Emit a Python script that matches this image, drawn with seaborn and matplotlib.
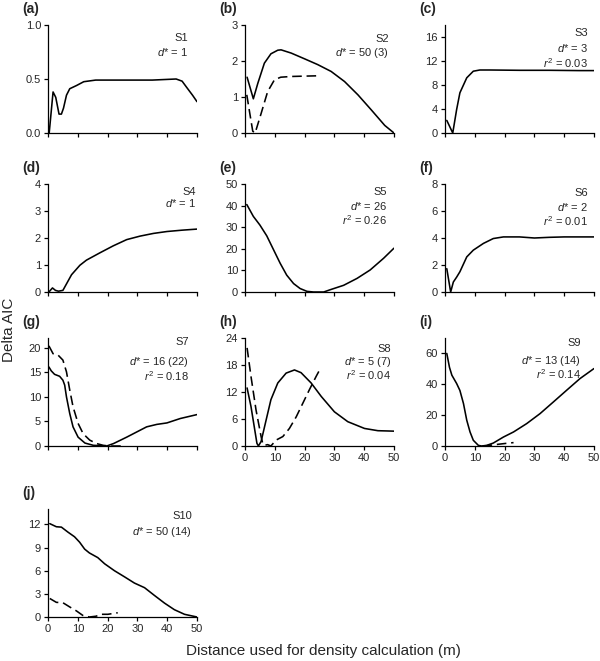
import matplotlib
matplotlib.use("Agg")
import matplotlib.pyplot as plt
import seaborn as sns

# Delta AIC vs distance used for density calculation
# solid = main curve, dashed = second curve (where present)
s1_x = [0.4, 1.7, 2.6, 3.7, 4.5, 5.2, 6.2, 7.3, 9.6, 12, 16, 25, 35, 43, 45, 46.6, 48.5, 50]
s1_y = [0.0, 0.38, 0.33, 0.175, 0.175, 0.23, 0.35, 0.41, 0.44, 0.475, 0.49, 0.49, 0.49, 0.50, 0.48, 0.42, 0.35, 0.29]

s2_x = [0.7, 2.8, 4.3, 6.5, 8.7, 11, 12.1, 15.5, 20, 24.4, 28.9, 33.4, 37.9, 42.4, 46.9, 50]
s2_y = [1.55, 0.95, 1.38, 1.94, 2.20, 2.30, 2.31, 2.22, 2.06, 1.90, 1.71, 1.43, 1.06, 0.64, 0.21, 0.0]
s2_dx = [0.6, 1.6, 2.6, 3.4, 5.4, 7.6, 9.9, 12, 15.5, 20, 25]
s2_dy = [1.06, 0.55, 0.05, 0.0, 0.54, 1.15, 1.48, 1.55, 1.57, 1.58, 1.59]

s3_x = [0.6, 2.6, 3.9, 5.0, 7.3, 9.5, 11.7, 15, 25, 35, 45, 50]
s3_y = [2.1, 0.0, 3.9, 6.7, 9.2, 10.3, 10.5, 10.5, 10.45, 10.45, 10.4, 10.4]

s4_x = [0.3, 1.5, 2.5, 3.5, 5, 6.2, 7.9, 10.7, 12.9, 17.4, 21.9, 26.4, 30.9, 35.4, 39.9, 45, 50]
s4_y = [0.0, 0.15, 0.06, 0.03, 0.06, 0.30, 0.64, 0.99, 1.18, 1.45, 1.71, 1.94, 2.07, 2.17, 2.24, 2.29, 2.33]

s5_x = [0.6, 2.8, 5, 7.3, 9.6, 11.8, 14, 16.3, 18.5, 20.8, 23, 26.4, 28.7, 33.1, 37.6, 42, 46.5, 50]
s5_y = [40.5, 35, 31, 26, 19.5, 13.3, 7.8, 3.9, 1.6, 0.3, 0.0, 0.0, 1.1, 3.1, 6.3, 10.2, 15.6, 20.3]

s6_x = [0.6, 1.9, 2.8, 3.9, 5, 7.3, 9.5, 12.9, 16.2, 19.6, 25, 30, 35, 40, 50]
s6_y = [1.73, 0.0, 0.74, 1.1, 1.5, 2.6, 3.1, 3.6, 3.96, 4.08, 4.08, 4.0, 4.05, 4.08, 4.08]

s7_x = [0.3, 1.1, 2.2, 3.9, 5.0, 5.6, 6.2, 7.3, 8.4, 10.1, 12.4, 15.2, 19.7, 22, 26.4, 33.1, 36.5, 39.9, 44.4, 50]
s7_y = [16.1, 15.3, 14.6, 14.2, 13.4, 12.4, 10.0, 6.6, 3.9, 1.8, 0.6, 0.14, 0.0, 0.5, 1.8, 3.9, 4.4, 4.7, 5.6, 6.4]
s7_dx = [0.3, 1.7, 3.4, 5.0, 6.2, 7.3, 8.4, 10.1, 11.8, 14, 16.3, 18.5, 20.5, 24.7]
s7_dy = [20.4, 18.8, 18.5, 17.5, 15.1, 11.4, 8.0, 4.6, 2.5, 1.2, 0.5, 0.14, 0.0, 0.0]

s8_x = [0.7, 2.0, 3.1, 4.0, 4.5, 5.4, 7.1, 8.7, 11, 13.8, 16.6, 18.8, 22.2, 25.6, 30, 34.5, 40.1, 44.6, 50]
s8_y = [12.9, 8.8, 4.3, 0.6, 0.0, 1.0, 5.8, 10.3, 14.0, 16.2, 16.9, 16.3, 14.0, 11.0, 7.6, 5.4, 3.9, 3.4, 3.3]
s8_dx = [0.7, 2.0, 3.7, 5.4, 6.0, 6.5, 7.6, 8.7, 10.4, 12.7, 14.9, 17.2, 19.4, 21.6, 23.9, 25.2]
s8_dy = [21.8, 15.5, 8.0, 2.1, 0.4, 0.15, 0.3, 0.0, 1.3, 2.1, 3.9, 6.5, 9.5, 12.5, 15.5, 17.1]

s9_x = [0.6, 1.5, 2.3, 3.9, 5.0, 6.2, 7.3, 8.4, 9.5, 11.2, 12.3, 14, 16.2, 19.6, 23, 27.4, 31.9, 36.4, 40.8, 45.3, 50]
s9_y = [60, 51, 45.9, 40.5, 36, 27.5, 16.7, 9.1, 3.7, 0.4, 0.0, 0.4, 1.9, 5.8, 9.1, 14.5, 21, 28.6, 36.1, 43.7, 50.2]
s9_dx = [12.6, 14, 17.8, 20.5, 23]
s9_dy = [0.0, 0.2, 1.1, 1.7, 2.2]

s10_x = [0.6, 2.8, 4.5, 6.7, 8.9, 10.6, 12.3, 13.9, 16.7, 19, 22.3, 25.7, 29, 32.4, 35.7, 39.1, 42.4, 45.8, 50]
s10_y = [12.1, 11.7, 11.65, 11.0, 10.4, 9.7, 8.8, 8.3, 7.7, 6.9, 6.0, 5.2, 4.4, 3.8, 2.8, 1.8, 0.95, 0.35, 0.0]
s10_dx = [0.6, 2.8, 5.0, 7.3, 9.5, 11.7, 13.9, 16.1, 17.9, 20.1, 23.4]
s10_dy = [2.4, 1.9, 1.85, 1.3, 0.8, 0.2, 0.0, 0.1, 0.35, 0.35, 0.55]

panel_tags = ["(a)", "(b)", "(c)", "(d)", "(e)", "(f)", "(g)", "(h)", "(i)", "(j)"]
solid_series = [(s1_x, s1_y), (s2_x, s2_y), (s3_x, s3_y), (s4_x, s4_y), (s5_x, s5_y),
                (s6_x, s6_y), (s7_x, s7_y), (s8_x, s8_y), (s9_x, s9_y), (s10_x, s10_y)]
dashed_series = [None, (s2_dx, s2_dy), None, None, None,
                 None, (s7_dx, s7_dy), (s8_dx, s8_dy), (s9_dx, s9_dy), (s10_dx, s10_dy)]
y_max = [1.0, 3, 18, 4, 50, 8, 22, 24, 70, 14]
y_ticks = [[0, 0.5, 1.0], [0, 1, 2, 3], [0, 4, 8, 12, 16], [0, 1, 2, 3, 4], [0, 10, 20, 30, 40, 50],
           [0, 2, 4, 6, 8], [0, 5, 10, 15, 20], [0, 6, 12, 18, 24], [0, 20, 40, 60], [0, 3, 6, 9, 12]]
x_ticks = [0, 10, 20, 30, 40, 50]
notes = [
    ["S1", r"$d$* = 1"],
    ["S2", r"$d$* = 50 (3)"],
    ["S3", r"$d$* = 3", r"$r^2$ = 0.03"],
    ["S4", r"$d$* = 1"],
    ["S5", r"$d$* = 26", r"$r^2$ = 0.26"],
    ["S6", r"$d$* = 2", r"$r^2$ = 0.01"],
    ["S7", r"$d$* = 16 (22)", r"$r^2$ = 0.18"],
    ["S8", r"$d$* = 5 (7)", r"$r^2$ = 0.04"],
    ["S9", r"$d$* = 13 (14)", r"$r^2$ = 0.14"],
    ["S10", r"$d$* = 50 (14)"],
]

sns.set_theme(style="ticks")
plt.rcParams["font.family"] = ["Liberation Sans", "DejaVu Sans"]
plt.rcParams["mathtext.fontset"] = "custom"
plt.rcParams["mathtext.rm"] = "Liberation Sans"
plt.rcParams["mathtext.it"] = "Liberation Sans:italic"

W, H = 600, 661
fig = plt.figure(figsize=(6, 6.61), dpi=100)

col_left = [48, 245, 445]
row_top = [25, 184, 338, 509]
aw, ah = 149, 108
# text placement per panel (px below top for each line, px in from right edge)
note_rows = [[13, 27], [14, 28], [8, 23, 38], [8, 19], [8, 22, 36],
             [9, 23, 37], [4, 24, 38], [11, 24, 37], [5, 23, 36], [7, 23]]
note_right = [9, 5, 6, 1, 7, 6, 8, 3, 13, 5]
bottom_panels = [7, 8, 9]

for i in range(10):
    r, c = divmod(i, 3)
    ax = fig.add_axes([col_left[c] / W, 1 - (row_top[r] + ah) / H, aw / W, ah / H])
    xs, ys = solid_series[i]
    sns.lineplot(x=xs, y=ys, ax=ax, color="black", lw=1.15)
    if dashed_series[i] is not None:
        dx, dy = dashed_series[i]
        sns.lineplot(x=dx, y=dy, ax=ax, color="black", lw=1.15, linestyle=(0, (6, 3)))
    ax.set_xlim(0, 50)
    ax.set_ylim(0, y_max[i])
    ax.set_xticks(x_ticks)
    ax.set_yticks(y_ticks[i])
    if i == 0:
        ax.set_yticklabels(["0.0", "0.5", "1.0"])
    if i not in bottom_panels:
        ax.set_xticklabels([])
    ax.tick_params(direction="out", length=3, width=0.9, labelsize=8, pad=2, color="black")
    sns.despine(ax=ax)
    for s in ["left", "bottom"]:
        ax.spines[s].set_linewidth(0.9)
        ax.spines[s].set_color("black")
    for k, line in enumerate(notes[i]):
        ax.text(1 - note_right[i] / aw, 1 - note_rows[i][k] / ah, line, transform=ax.transAxes,
                ha="right", va="center", fontsize=8)
    fig.text((col_left[c] - 26) / W, 1 - (row_top[r] - 16) / H, panel_tags[i],
             ha="left", va="center", fontsize=10, fontweight="bold")

fig.text(9 / W, 1 - 330 / H, "Delta AIC", rotation=90, ha="center", va="center", fontsize=11)
fig.text(323 / W, 1 - 651 / H, "Distance used for density calculation (m)",
         ha="center", va="center", fontsize=11)

fig.savefig("out.png", dpi=100, facecolor="white")
